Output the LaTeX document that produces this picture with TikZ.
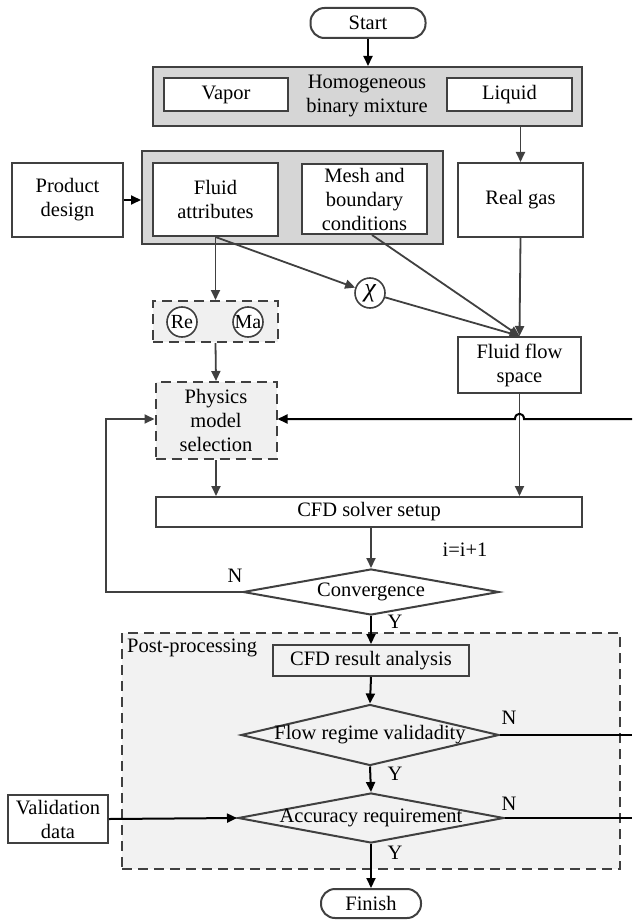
\documentclass[tikz,border=0pt]{standalone}
\usepackage{fontspec}
\setmainfont{Liberation Serif}
\usetikzlibrary{shapes.geometric,arrows.meta}
\definecolor{lc}{HTML}{404040}
\definecolor{gfill}{HTML}{D6D6D6}
\definecolor{lfill}{HTML}{F0F0F0}
\definecolor{pfill}{HTML}{F2F2F2}
\newcommand{\fsz}{\fontsize{20.5}{24}\selectfont}
\begin{document}
\begin{tikzpicture}[x=1pt,y=-1pt,
  every node/.style={font=\fsz, text=black},
  box/.style={draw=lc, line width=2pt, fill=white, inner sep=0pt, align=center, rectangle},
  gbox/.style={draw=lc, line width=2pt, fill=gfill, inner sep=0pt, rectangle},
  dbox/.style={draw=lc, line width=2pt, fill=lfill, dash pattern=on 10pt off 6pt, inner sep=0pt, align=center, rectangle},
  pill/.style={draw=lc, line width=2pt, fill=white, rounded corners=14pt, inner sep=0pt},
  dia/.style={draw=lc, line width=2pt, fill=white, diamond, inner sep=0pt},
  circ/.style={draw=lc, line width=1.6pt, fill=white, circle, inner sep=0pt, minimum size=30pt},
  ln/.style={draw=lc, line width=1.8pt},
  arr/.style={ln, -{Triangle[length=10pt,width=9pt]}},
  barr/.style={draw=black, line width=2pt, -{Triangle[length=10pt,width=9pt]}},
  lbl/.style={inner sep=0pt}
]
\useasboundingbox (0,0) rectangle (632,920);
% post-processing background
\node[dbox, fill=pfill, minimum width=498pt, minimum height=236pt] (post) at (371,751) {};
\node[lbl, anchor=west] (postlbl) at (127,648) {Post-processing};

\node[pill, minimum width=115pt, minimum height=30pt] (start) at (368,23) {Start};
\node[gbox, minimum width=429pt, minimum height=59pt] (mix) at (367.5,96.5) {};
\node[box, minimum width=124pt, minimum height=33pt] (vapor) at (226,95) {Vapor};
\node[box, minimum width=125pt, minimum height=33pt] (liquid) at (509.5,95) {Liquid};
\node[lbl, align=center] (homo) at (367,96) {Homogeneous\\binary mixture};
\node[box, minimum width=125pt, minimum height=74pt] (gas) at (520.5,200) {Real gas};
\node[box, minimum width=111pt, minimum height=74pt] (prod) at (67.5,200) {Product\\design};
\node[gbox, minimum width=301pt, minimum height=93pt] (grp) at (292.5,197.5) {};
\node[box, minimum width=125pt, minimum height=73pt] (fluid) at (215.5,199.5) {Fluid\\attributes};
\node[box, minimum width=125pt, minimum height=70pt] (mesh) at (364.5,199) {Mesh and\\boundary\\conditions};
\node[circ, font=\fontsize{26}{26}\selectfont] (chi) at (370,293) {\itshape χ};
\node[dbox, minimum width=125pt, minimum height=41pt] (rema) at (215.5,321.5) {};
\node[circ, font=\fontsize{20}{22}\selectfont] (re) at (182,322) {Re};
\node[circ, font=\fontsize{20}{22}\selectfont] (ma) at (248,322) {Ma};
\node[dbox, minimum width=121pt, minimum height=77pt] (phys) at (216,420.5) {Physics\\model\\selection};
\node[box, minimum width=123pt, minimum height=56pt] (space) at (519.5,365) {Fluid flow\\space};
\node[box, minimum width=426pt, minimum height=30pt] (solver) at (369,512) {CFD solver setup};
\node[lbl] (iter) at (465,550) {i=i+1};
\node[dia, minimum width=256pt, minimum height=46pt] (conv) at (371,592) {};
\node[lbl] (convtxt) at (371,592) {Convergence};
\node[lbl] (n1) at (235,576) {N};
\node[lbl] (y1) at (395,622) {Y};
\node[box, fill=none, minimum width=196pt, minimum height=31pt] (res) at (371,660.5) {CFD result analysis};
\node[dia, fill=none, minimum width=258pt, minimum height=61pt] (flow) at (370,735) {};
\node[lbl] (flowtxt) at (370,735) {Flow regime validadity};
\node[lbl] (n2) at (509,718) {N};
\node[lbl] (y2) at (395,774) {Y};
\node[dia, fill=none, minimum width=266pt, minimum height=50pt] (acc) at (371,818) {};
\node[lbl] (acctxt) at (371,818) {Accuracy requirement};
\node[lbl] (n3) at (509,804) {N};
\node[lbl] (y3) at (395,853) {Y};
\node[box, minimum width=100pt, minimum height=48pt] (valid) at (58,819) {Validation\\data};
\node[pill, minimum width=100pt, minimum height=29pt] (finish) at (371,903.5) {Finish};

\coordinate (fb) at (632,419);
\coordinate (hopa) at (524,419);
\coordinate (hopb) at (515,419);
\coordinate (fbl) at (106,592);
\coordinate (fbt) at (106,419);
\coordinate (e1) at (632,735);
\coordinate (e2) at (632,818);

\draw[barr] (start.south) -- (start.south |- mix.north);
\draw[arr] (gas.north |- mix.south) -- (gas.north);
\draw[barr] (prod.east) -- (prod.east -| grp.west);
\draw[arr] (fluid.south) -- (rema.north);
\draw[arr] (fluid.south) -- (chi);
\draw[arr] (chi) -- (space.north);
\draw[arr] ([xshift=7.5pt]mesh.south) -- (space.north);
\draw[arr] (gas.south) -- (space.north);
\draw[arr] (rema.south) -- (phys.north);
\draw[arr] (phys.south) -- (phys.south |- solver.north);
\draw[arr] (space.south) -- (space.south |- solver.north);
\draw[arr] (conv.north |- solver.south) -- (conv.north);
\draw[arr] (conv.west) -- (fbl) -- (fbt) -- (fbt -| phys.west);
\draw[barr] (fb) -- (hopa) .. controls (524,412) and (515,412) .. (hopb) -- (hopb -| phys.east);
\draw[barr] (conv.south) -- (res.north);
\draw[barr] (res.south) -- (flow.north);
\draw[barr] (flow.south) -- (acc.north);
\draw[ln, draw=black] (flow.east) -- (e1);
\draw[ln, draw=black] (acc.east) -- (e2);
\draw[barr] (valid.east) -- (acc.west);
\draw[barr] (acc.south) -- (finish.north);
\end{tikzpicture}
\end{document}
